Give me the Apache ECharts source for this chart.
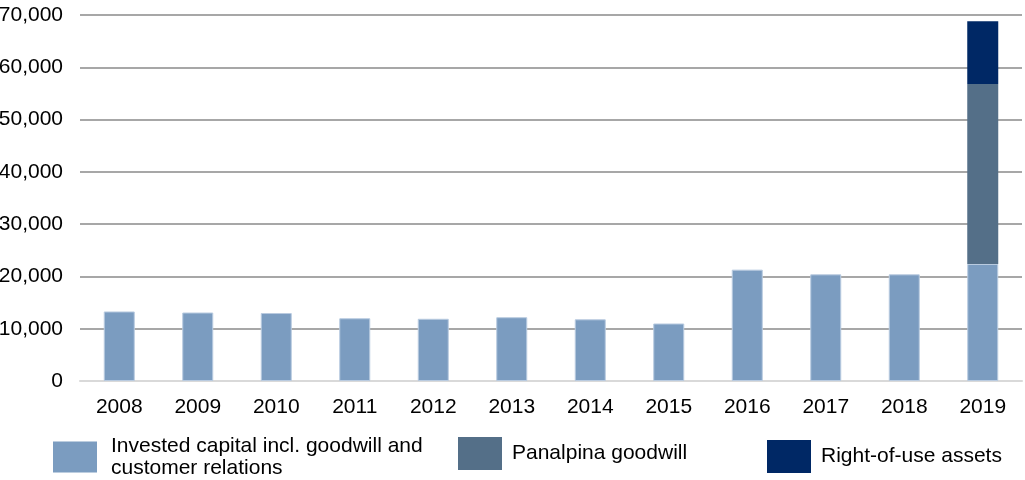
<!DOCTYPE html>
<html>
<head>
<meta charset="utf-8">
<script src="https://cdn.jsdelivr.net/npm/echarts@6/dist/echarts.min.js"></script>
<style>
  html, body { margin: 0; padding: 0; background: #fff; }
  #chart { width: 1025px; height: 480px; }
</style>
</head>
<body>
<div id="chart"></div>
<script>
var years = ["2008", "2009", "2010", "2011", "2012", "2013", "2014", "2015", "2016", "2017", "2018", "2019"];
var investedCapital = [13300, 13100, 13000, 12000, 11900, 12200, 11800, 11000, 21300, 20400, 20400, 22400];
var panalpinaGoodwill = ["-", "-", "-", "-", "-", "-", "-", "-", "-", "-", "-", 34400];
var rightOfUse = ["-", "-", "-", "-", "-", "-", "-", "-", "-", "-", "-", 12000];
var seriesNames = ["Invested capital incl. goodwill and\ncustomer relations", "Panalpina goodwill", "Right-of-use assets"];
var colors = ["#7b9cc0", "#546f88", "#002865"];

var font = "Arial, 'Liberation Sans', sans-serif";

function makeLegend(name, left, top, textPad, itemHeight, lineHeight) {
  return {
    data: [name],
    left: left,
    top: top,
    padding: 0,
    orient: "horizontal",
    itemWidth: 44,
    itemHeight: itemHeight,
    itemGap: 10,
    selectedMode: false,
    icon: "rect",
    itemStyle: { borderWidth: 0 },
    textStyle: { fontFamily: font, fontSize: 21, color: "#000", lineHeight: lineHeight, padding: [0, 0, 0, textPad] }
  };
}

var myEcharts = echarts.init(document.getElementById("chart"));
myEcharts.setOption({
  animation: false,
  color: colors,
  grid: { left: 80, right: 3, top: 15, bottom: 99, containLabel: false, outerBoundsMode: "none" },
  legend: [
    makeLegend(seriesNames[0], 53, 435, 9, 31, 22),
    makeLegend(seriesNames[1], 458, 437, 5, 33, 21),
    makeLegend(seriesNames[2], 767, 440, 5, 33, 21)
  ],
  xAxis: {
    type: "category",
    data: years,
    axisLine: { lineStyle: { color: "#d9d9d9", width: 2 } },
    axisTick: { show: false },
    axisLabel: { color: "#000", fontFamily: font, fontSize: 21, margin: 16 }
  },
  yAxis: {
    type: "value",
    min: 0,
    max: 70000,
    interval: 10000,
    axisLine: { show: false },
    axisTick: { show: false },
    splitLine: { lineStyle: { color: "#8a8a8a", width: 1.5 } },
    axisLabel: {
      color: "#000",
      fontFamily: font,
      fontSize: 21,
      margin: 17,
      formatter: function (v) { return v.toLocaleString("en-US"); }
    }
  },
  series: [
    {
      name: seriesNames[0],
      type: "bar",
      stack: "total",
      barWidth: 31,
      data: investedCapital,
      itemStyle: { color: colors[0], borderColor: "#b9cbe0", borderWidth: 1 }
    },
    {
      name: seriesNames[1],
      type: "bar",
      stack: "total",
      barWidth: 31,
      data: panalpinaGoodwill,
      itemStyle: { color: colors[1] }
    },
    {
      name: seriesNames[2],
      type: "bar",
      stack: "total",
      barWidth: 31,
      data: rightOfUse,
      itemStyle: { color: colors[2] }
    }
  ]
});
</script>
</body>
</html>
